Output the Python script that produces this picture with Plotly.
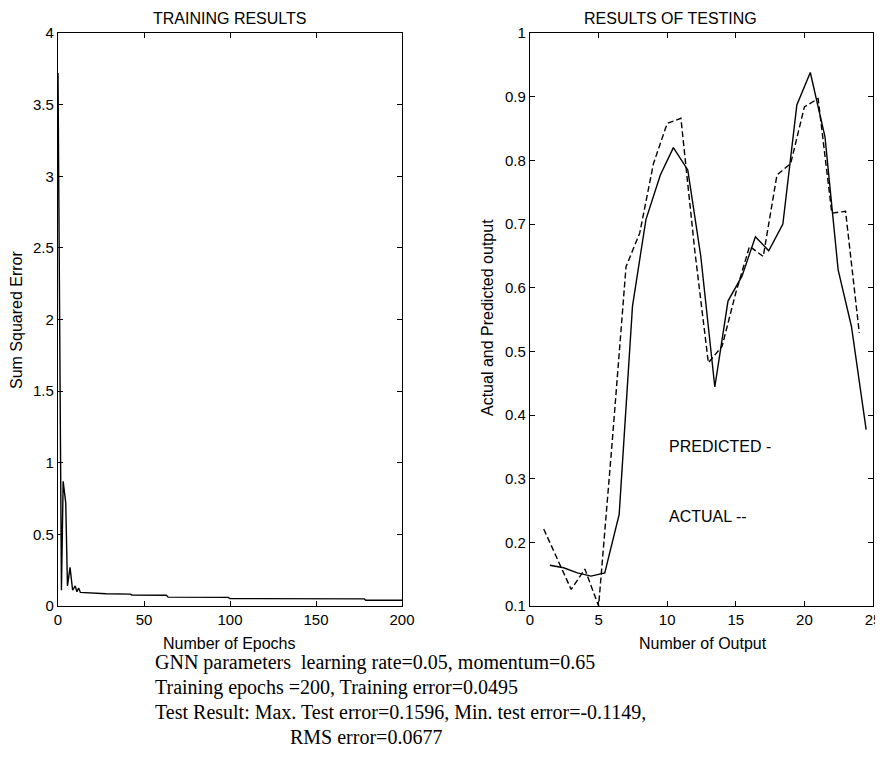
import plotly.graph_objects as go

# ---------------- data ----------------
train_epochs = [0, 2, 3, 4.5, 5.5, 7, 8.5, 10, 11, 12, 13, 20, 28, 42, 43, 63, 64, 99, 100, 178, 179, 200]
train_error = [3.72, 0.11, 0.87, 0.72, 0.14, 0.27, 0.11, 0.14, 0.10, 0.125, 0.095, 0.09, 0.085,
               0.083, 0.077, 0.075, 0.062, 0.060, 0.052, 0.050, 0.040, 0.040]

test_x_dashed = list(range(1, 25))
test_dashed = [0.221, 0.173, 0.126, 0.158, 0.100, 0.360, 0.633, 0.686, 0.795, 0.858, 0.866, 0.660,
               0.482, 0.508, 0.592, 0.665, 0.649, 0.777, 0.795, 0.884, 0.897, 0.717, 0.720, 0.529]

test_x_solid = [1.45, 2.45, 3.45, 4.45, 5.45, 6.5, 7.47, 8.45, 9.5, 10.45, 11.5, 12.45,
                13.47, 14.43, 15.45, 16.43, 17.4, 18.43, 19.45, 20.43, 21.5, 22.46, 23.43, 24.5]
test_solid = [0.164, 0.160, 0.152, 0.147, 0.152, 0.244, 0.571, 0.707, 0.777, 0.820, 0.785, 0.649,
              0.444, 0.579, 0.618, 0.680, 0.658, 0.700, 0.887, 0.938, 0.837, 0.628, 0.539, 0.377]

left_yticks = [0, 0.5, 1, 1.5, 2, 2.5, 3, 3.5, 4]
left_yticklabels = ["0", "0.5", "1", "1.5", "2", "2.5", "3", "3.5", "4"]
left_xticks = [0, 50, 100, 150, 200]
right_yticks = [0.1, 0.2, 0.3, 0.4, 0.5, 0.6, 0.7, 0.8, 0.9, 1.0]
right_yticklabels = ["0.1", "0.2", "0.3", "0.4", "0.5", "0.6", "0.7", "0.8", "0.9", "1"]
right_xticks = [0, 5, 10, 15, 20, 25]

footer_lines = [
    "GNN parameters  learning rate=0.05, momentum=0.65",
    "Training epochs =200, Training error=0.0495",
    "Test Result: Max. Test error=0.1596, Min. test error=-0.1149,",
]
footer_last = "RMS error=0.0677"

# ---------------- figure ----------------
# the page body has an 8px margin on every side; keep the figure inside the window
OFF = 8
W, H = 883 - 2 * OFF, 772 - 2 * OFF
SANS = "Liberation Sans, Arial, sans-serif"
SERIF = "Liberation Serif, Times New Roman, serif"

def px(x):
    return (x - OFF) / W

def py(y):
    return 1 - (y - OFF) / H

fig = go.Figure()
fig.add_trace(go.Scatter(x=train_epochs, y=train_error, mode="lines",
                         line=dict(color="black", width=1.4), xaxis="x", yaxis="y",
                         showlegend=False))
fig.add_trace(go.Scatter(x=test_x_dashed, y=test_dashed, mode="lines",
                         line=dict(color="black", width=1.4, dash="6px,3px"), xaxis="x2", yaxis="y2",
                         showlegend=False))
fig.add_trace(go.Scatter(x=test_x_solid, y=test_solid, mode="lines",
                         line=dict(color="black", width=1.4), xaxis="x2", yaxis="y2",
                         showlegend=False))

axis_common = dict(showline=True, linecolor="black", linewidth=1.3, mirror="ticks",
                   ticks="inside", ticklen=5, tickcolor="black", tickwidth=1,
                   showgrid=False, zeroline=False, automargin=False,
                   ticklabeloverflow="allow",
                   tickfont=dict(family=SANS, size=15, color="black"))

ydom = [py(606), py(33)]
fig.update_layout(
    template="none",
    width=W, height=H,
    margin=dict(l=0, r=0, t=0, b=0, pad=0),
    paper_bgcolor="white", plot_bgcolor="white",
    xaxis=dict(domain=[px(58), px(402)], range=[0, 200], tickvals=left_xticks,
               anchor="y", **axis_common),
    yaxis=dict(domain=ydom, range=[0, 4], tickvals=left_yticks, ticktext=left_yticklabels,
               anchor="x", **axis_common),
    xaxis2=dict(domain=[px(530), px(873)], range=[0, 25], tickvals=right_xticks,
                anchor="y2", **axis_common),
    yaxis2=dict(domain=ydom, range=[0.1, 1.0], tickvals=right_yticks, ticktext=right_yticklabels,
                anchor="x2", **axis_common),
)

ann = []
def text(x, y, t, size=16, family=SANS, xanchor="center", angle=0):
    ann.append(dict(x=px(x), y=py(y), xref="paper", yref="paper", text=t, showarrow=False,
                    xanchor=xanchor, yanchor="middle", textangle=angle,
                    font=dict(family=family, size=size, color="black")))

text(230, 18, "TRAINING RESULTS")
text(670, 18, "RESULTS OF TESTING")
text(230, 643, "Number of Epochs")
text(703, 643, "Number of Output")
text(16, 320, "Sum Squared Error", angle=-90)
text(488, 318, "Actual and Predicted output", angle=-90)

for i, line in enumerate(footer_lines):
    text(153, 662 + 25 * i, line, size=20, family=SERIF, xanchor="left")
text(288, 737, footer_last, size=20, family=SERIF, xanchor="left")

ann.append(dict(x=10, y=0.35, xref="x2", yref="y2", text="PREDICTED -", showarrow=False,
                xanchor="left", yanchor="middle", font=dict(family=SANS, size=16, color="black")))
ann.append(dict(x=10, y=0.24, xref="x2", yref="y2", text="ACTUAL --", showarrow=False,
                xanchor="left", yanchor="middle", font=dict(family=SANS, size=16, color="black")))

fig.update_layout(annotations=ann)
fig.write_html("out.html")
